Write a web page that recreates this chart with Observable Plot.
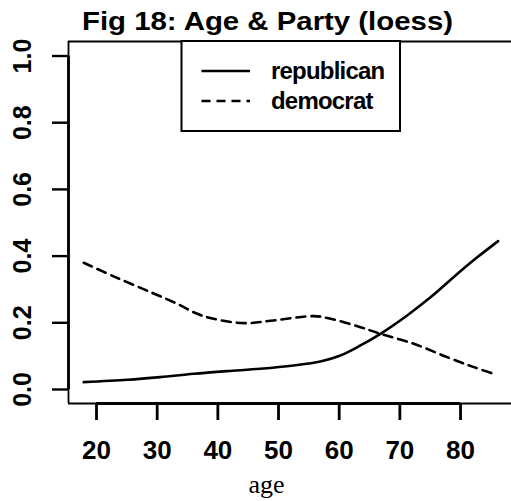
<!DOCTYPE html>
<html>
<head>
<meta charset="utf-8">
<script src="https://cdn.jsdelivr.net/npm/d3@7"></script>
<script src="https://cdn.jsdelivr.net/npm/@observablehq/plot@0.6"></script>
<style>
  html, body { margin: 0; padding: 0; background: #fff; overflow: hidden; }
  #chart svg { display: block; }
</style>
</head>
<body>
<div id="chart"></div>
<script>
// ---- data ----
const repAge = [17.9, 25.1, 30.5, 36.0, 41.5, 47.0, 52.5, 56.9, 60.2, 63.5, 66.8, 71.2, 75.1, 79.5, 82.8, 86.2];
const repVal = [0.022, 0.029, 0.037, 0.047, 0.055, 0.062, 0.072, 0.084, 0.102, 0.132, 0.167, 0.222, 0.277, 0.347, 0.397, 0.445];
const demAge = [17.9, 23.1, 28.9, 33.3, 36.6, 39.3, 44.3, 49.2, 55.8, 58.6, 63.5, 66.8, 72.3, 77.8, 82.2, 85.8];
const demVal = [0.380, 0.337, 0.292, 0.257, 0.227, 0.212, 0.199, 0.207, 0.220, 0.212, 0.187, 0.167, 0.137, 0.097, 0.067, 0.045];
const xTicks = [20, 30, 40, 50, 60, 70, 80];
const yTicks = [0, 0.2, 0.4, 0.6, 0.8, 1.0];
const yTickLabels = ["0.0", "0.2", "0.4", "0.6", "0.8", "1.0"];
const seriesNames = ["republican", "democrat"];
const titleText = "Fig 18: Age & Party (loess)";
const xLabel = "age";

const rep = repAge.map((a, i) => ({age: a, v: repVal[i]}));
const dem = demAge.map((a, i) => ({age: a, v: demVal[i]}));

const xDomain = [15.385, 88.40];
const yDomain = [-0.042, 1.0435];
const sans = "'Liberation Sans', Arial, Helvetica, sans-serif";

const plot = Plot.plot({
  width: 511,
  height: 501,
  marginTop: 41,
  marginBottom: 98,
  marginLeft: 68,
  marginRight: 0,
  x: {domain: xDomain},
  y: {domain: yDomain},
  style: {fontFamily: sans, background: "white", color: "black", overflow: "hidden"},
  marks: [
    // box (top, left, bottom; right edge lies just outside the window)
    Plot.ruleY([yDomain[1]], {x1: xDomain[0], x2: xDomain[1], stroke: "black", strokeWidth: 1.8}),
    Plot.ruleY([yDomain[0]], {x1: xDomain[0], x2: xDomain[1], stroke: "black", strokeWidth: 1.8}),
    Plot.ruleX([xDomain[0]], {y1: yDomain[0], y2: yDomain[1], stroke: "black", strokeWidth: 1.8}),
    // axis lines
    Plot.ruleY([yDomain[0]], {x1: xTicks[0], x2: xTicks[xTicks.length - 1], stroke: "black", strokeWidth: 2.8}),
    Plot.ruleX([xDomain[0]], {y1: yTicks[0], y2: yTicks[yTicks.length - 1], stroke: "black", strokeWidth: 2.8}),
    // x axis
    Plot.axisX(xTicks, {anchor: "bottom", tickSize: 17, tickPadding: 20, strokeWidth: 2.8,
      fontSize: 26, fontWeight: "bold", tickFormat: d => String(d), label: null}),
    // y axis ticks
    Plot.axisY(yTicks, {anchor: "left", tickSize: 16, strokeWidth: 2.4, tickFormat: null, text: null, label: null}),
    Plot.text(yTicks, {y: d => d, text: (d, i) => yTickLabels[i], frameAnchor: "left", dx: -46,
      rotate: -90, fontSize: 25, fontWeight: "bold", fill: "black", textAnchor: "middle", lineAnchor: "middle"}),
    // curves
    Plot.line(dem, {x: "age", y: "v", stroke: "black", strokeWidth: 2.6, strokeDasharray: "9,6", curve: "catmull-rom"}),
    Plot.line(rep, {x: "age", y: "v", stroke: "black", strokeWidth: 2.6, curve: "catmull-rom"})
  ]
});

document.getElementById("chart").appendChild(plot);

// title, axis label and legend (decorations)
const svg = d3.select(plot);
svg.append("text")
  .attr("x", 267.5).attr("y", 30)
  .attr("text-anchor", "middle")
  .attr("font-family", sans).attr("font-weight", "bold").attr("font-size", 26)
  .attr("textLength", 371).attr("lengthAdjust", "spacingAndGlyphs")
  .attr("fill", "black")
  .text(titleText);

svg.append("text")
  .attr("x", 266.5).attr("y", 493)
  .attr("text-anchor", "middle")
  .attr("font-family", "'Liberation Serif', 'Times New Roman', serif").attr("font-size", 26)
  .attr("fill", "black")
  .text(xLabel);

const lg = svg.append("g").attr("text-anchor", "start");
lg.append("rect").attr("x", 181.5).attr("y", 41).attr("width", 218.5).attr("height", 90)
  .attr("fill", "white").attr("stroke", "black").attr("stroke-width", 2);
const rows = [71, 101];
const textLens = [116, 100];
seriesNames.forEach((name, i) => {
  lg.append("line").attr("x1", 201.5).attr("x2", 250).attr("y1", rows[i]).attr("y2", rows[i])
    .attr("stroke", "black").attr("stroke-width", 2.6)
    .attr("stroke-dasharray", i === 1 ? "9,6" : null);
  lg.append("text").attr("x", 271).attr("y", rows[i]).attr("dy", "0.35em")
    .attr("text-anchor", "start")
    .attr("font-family", sans).attr("font-weight", "bold").attr("font-size", 24)
    .attr("letter-spacing", -0.8)
    .attr("fill", "black").text(name);
});
</script>
</body>
</html>
